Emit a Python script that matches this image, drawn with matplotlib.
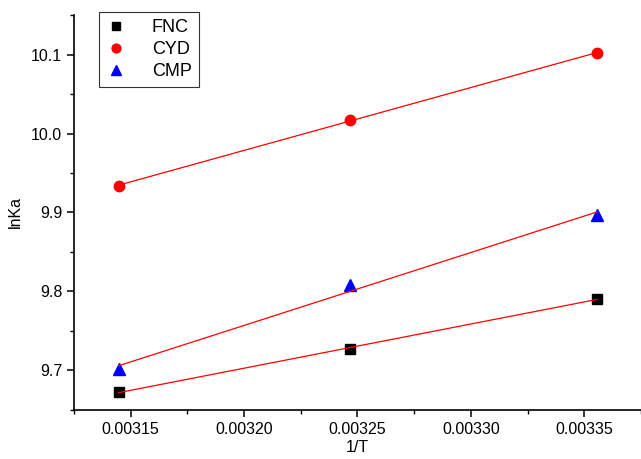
import matplotlib
matplotlib.use("Agg")
import matplotlib.pyplot as plt
from matplotlib.ticker import MultipleLocator, FormatStrFormatter
import numpy as np

plt.rcParams["font.family"] = ["Liberation Sans", "DejaVu Sans"]

# 1/T for 318, 308, 298 K
inv_t = [0.0031447, 0.0032468, 0.0033557]
fnc = [9.673, 9.727, 9.791]
cyd = [9.934, 10.017, 10.102]
cmp_ = [9.702, 9.808, 9.897]

series = [
    ("FNC", fnc, "s", "black", 6.5),
    ("CYD", cyd, "o", "red", 7.5),
    ("CMP", cmp_, "^", "blue", 8),
]

fig = plt.figure(figsize=(6.41, 4.59), dpi=100)
ax = fig.add_axes([0.1154, 0.1068, 0.8846, 0.8605])

x = np.array(inv_t)
for name, y, marker, color, ms in series:
    ax.plot(x, y, linestyle="none", marker=marker, color=color, ms=ms, label=name)
    # linear fit drawn between first and last point
    k, b = np.polyfit(x, y, 1)
    ax.plot(x[[0, -1]], k * x[[0, -1]] + b, color="red", lw=0.9)

ax.set_xlim(0.003125, 0.003375)
ax.set_ylim(9.65, 10.15)
ax.xaxis.set_major_locator(MultipleLocator(0.00005))
ax.xaxis.set_minor_locator(MultipleLocator(0.000025))
ax.yaxis.set_major_locator(MultipleLocator(0.1))
ax.yaxis.set_minor_locator(MultipleLocator(0.05))
ax.xaxis.set_major_formatter(FormatStrFormatter("%.5f"))
ax.yaxis.set_major_formatter(FormatStrFormatter("%.1f"))

for side in ("top", "right"):
    ax.spines[side].set_visible(False)
for side in ("left", "bottom"):
    ax.spines[side].set_linewidth(1.2)
ax.tick_params(which="major", direction="out", length=5, width=1.1, labelsize=11.5)
ax.tick_params(which="minor", direction="out", length=3, width=1.0)

ax.set_xlabel("1/T", fontsize=11.5, labelpad=2)
ax.set_ylabel("lnKa", fontsize=11.5, labelpad=6)

leg = ax.legend(loc="upper left", bbox_to_anchor=(0.045, 1.008), fontsize=13,
                frameon=True, fancybox=False, edgecolor="black",
                handlelength=1.0, handletextpad=1.5, borderpad=0.4,
                labelspacing=0.28, borderaxespad=0.0, markerscale=0.85)
leg.get_frame().set_linewidth(0.8)

fig.savefig("out.png", dpi=100)
